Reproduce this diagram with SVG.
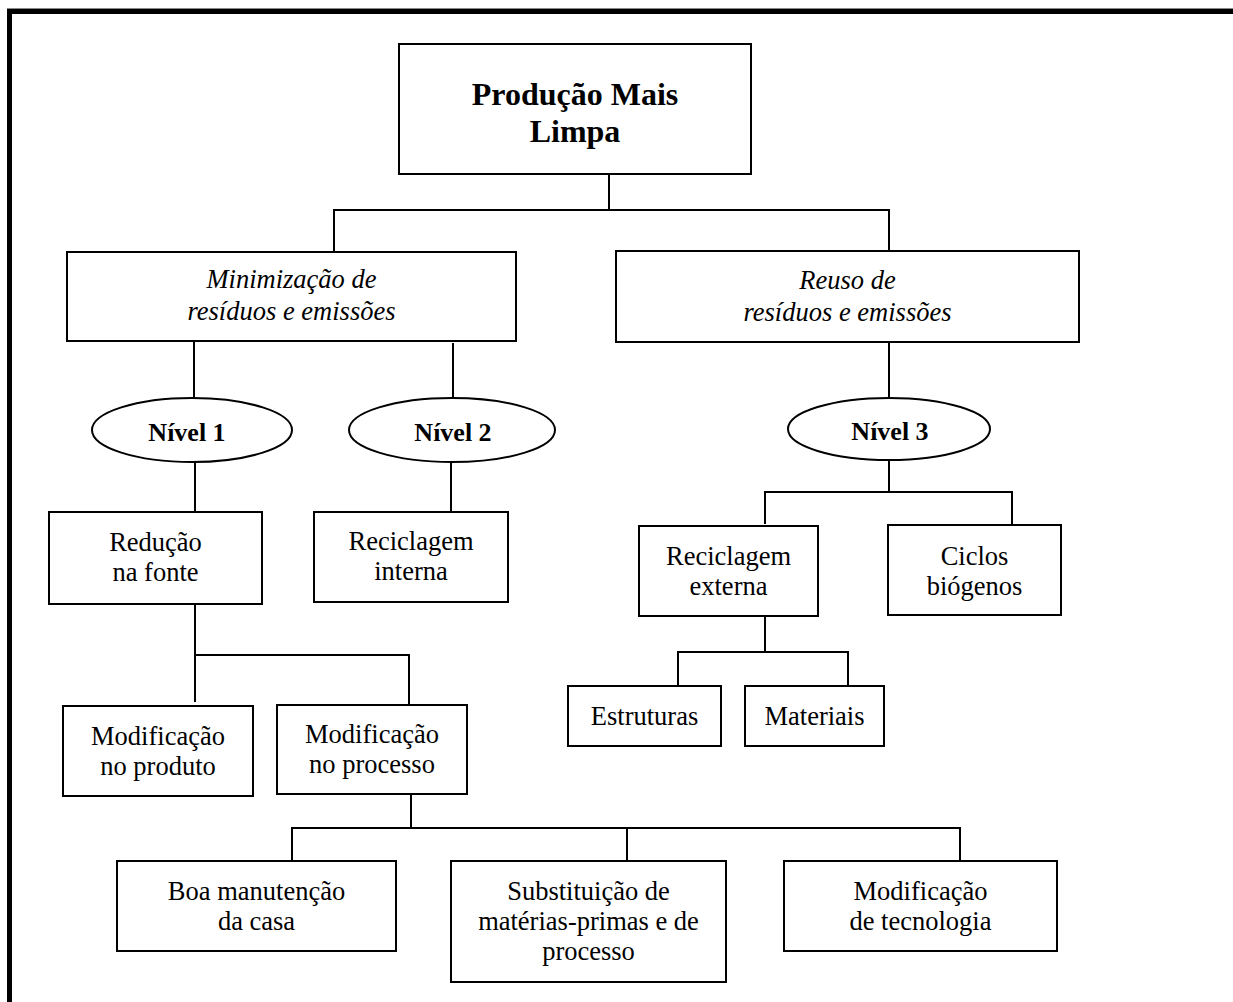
<svg xmlns="http://www.w3.org/2000/svg" width="1233" height="1002" viewBox="0 0 1233 1002">
<style>
.box{fill:#fff;stroke:#000;stroke-width:2}
.ell{fill:#fff;stroke:#000;stroke-width:2}
.t{font-family:"Liberation Serif","Times New Roman",serif;font-size:26.5px;fill:#000;text-anchor:middle}
.i{font-style:italic}
.b{font-weight:bold;font-size:26px}
.title{font-weight:bold;font-size:32px}
#connectors line,#connectors polyline{stroke:#000;stroke-width:2;fill:none}
</style>
<rect x="0" y="0" width="1233" height="1002" fill="#fff"/>
<g id="frame">
<rect x="7" y="8" width="1226" height="1" fill="#888"/>
<rect x="7" y="9" width="1226" height="5" fill="#000"/>
<rect x="7" y="9" width="5" height="993" fill="#000"/>
</g>
<g id="connectors">
<line x1="609" y1="174" x2="609" y2="210"/>
<polyline points="334,252 334,210 889,210 889,251"/>
<line x1="194" y1="341" x2="194" y2="398"/>
<line x1="453" y1="343" x2="453" y2="398"/>
<line x1="889" y1="342" x2="889" y2="398"/>
<line x1="195" y1="462" x2="195" y2="512"/>
<line x1="451" y1="462" x2="451" y2="512"/>
<line x1="889" y1="460" x2="889" y2="492"/>
<polyline points="765,524 765,492 1012,492 1012,525"/>
<line x1="765" y1="616" x2="765" y2="652"/>
<polyline points="678,686 678,652 848,652 848,686"/>
<line x1="195" y1="604" x2="195" y2="702"/>
<polyline points="195,655 409,655 409,704"/>
<line x1="411" y1="794" x2="411" y2="828"/>
<polyline points="292,861 292,828 960,828 960,861"/>
<line x1="627" y1="828" x2="627" y2="861"/>
</g>
<g id="n-pml">
<rect class="box" x="399" y="44" width="352" height="130"/>
<text class="t title" x="575" y="105">Produção Mais</text>
<text class="t title" x="575" y="142">Limpa</text>
</g>
<g id="n-min">
<rect class="box" x="67" y="252" width="449" height="89"/>
<text class="t i" x="291.5" y="288">Minimização de</text>
<text class="t i" x="291.5" y="320">resíduos e emissões</text>
</g>
<g id="n-reuso">
<rect class="box" x="616" y="251" width="463" height="91"/>
<text class="t i" x="847.5" y="289">Reuso de</text>
<text class="t i" x="847.5" y="321">resíduos e emissões</text>
</g>
<g id="n-nivel1">
<ellipse class="ell" cx="192" cy="430" rx="100" ry="32"/>
<text class="t b" x="187" y="441">Nível 1</text>
</g>
<g id="n-nivel2">
<ellipse class="ell" cx="452" cy="430" rx="103" ry="32"/>
<text class="t b" x="453" y="441">Nível 2</text>
</g>
<g id="n-nivel3">
<ellipse class="ell" cx="889" cy="429" rx="101" ry="31"/>
<text class="t b" x="890" y="440">Nível 3</text>
</g>
<g id="n-reducao">
<rect class="box" x="49" y="512" width="213" height="92"/>
<text class="t" x="155.5" y="551">Redução</text>
<text class="t" x="155.5" y="581">na fonte</text>
</g>
<g id="n-recint">
<rect class="box" x="314" y="512" width="194" height="90"/>
<text class="t" x="411" y="550">Reciclagem</text>
<text class="t" x="411" y="580">interna</text>
</g>
<g id="n-recext">
<rect class="box" x="639" y="526" width="179" height="90"/>
<text class="t" x="728.5" y="565">Reciclagem</text>
<text class="t" x="728.5" y="595">externa</text>
</g>
<g id="n-ciclos">
<rect class="box" x="888" y="525" width="173" height="90"/>
<text class="t" x="974.5" y="565">Ciclos</text>
<text class="t" x="974.5" y="595">biógenos</text>
</g>
<g id="n-estruturas">
<rect class="box" x="568" y="686" width="153" height="60"/>
<text class="t" x="644.5" y="725">Estruturas</text>
</g>
<g id="n-materiais">
<rect class="box" x="745" y="686" width="139" height="60"/>
<text class="t" x="814.5" y="725">Materiais</text>
</g>
<g id="n-modprod">
<rect class="box" x="63" y="706" width="190" height="90"/>
<text class="t" x="158" y="745">Modificação</text>
<text class="t" x="158" y="775">no produto</text>
</g>
<g id="n-modproc">
<rect class="box" x="277" y="705" width="190" height="89"/>
<text class="t" x="372" y="743">Modificação</text>
<text class="t" x="372" y="773">no processo</text>
</g>
<g id="n-boa">
<rect class="box" x="117" y="861" width="279" height="90"/>
<text class="t" x="256.5" y="900">Boa manutenção</text>
<text class="t" x="256.5" y="930">da casa</text>
</g>
<g id="n-subst">
<rect class="box" x="451" y="861" width="275" height="121"/>
<text class="t" x="588.5" y="900">Substituição de</text>
<text class="t" x="588.5" y="930">matérias-primas e de</text>
<text class="t" x="588.5" y="960">processo</text>
</g>
<g id="n-modtec">
<rect class="box" x="784" y="861" width="273" height="90"/>
<text class="t" x="920.5" y="900">Modificação</text>
<text class="t" x="920.5" y="930">de tecnologia</text>
</g>
</svg>
